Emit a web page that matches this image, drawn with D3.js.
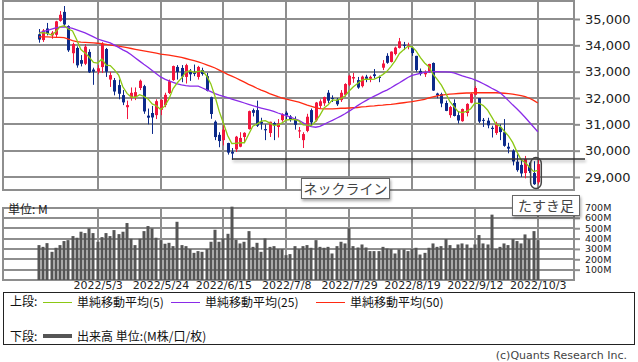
<!DOCTYPE html>
<html>
<head>
<meta charset="utf-8">
<script src="https://cdn.jsdelivr.net/npm/d3@7"></script>
<style>
body { margin: 0; background: #fff; }
</style>
</head>
<body>
<script>
'use strict';

// trading days (2022)
var dates = ['4/12','4/13','4/14','4/18','4/19','4/20','4/21','4/22','4/25','4/26','4/27','4/28','4/29',
  '5/2','5/3','5/4','5/5','5/6','5/9','5/10','5/11','5/12','5/13','5/16','5/17','5/18','5/19','5/20','5/23','5/24','5/25','5/26','5/27','5/31',
  '6/1','6/2','6/3','6/6','6/7','6/8','6/9','6/10','6/13','6/14','6/15','6/16','6/17','6/21','6/22','6/23','6/24','6/27','6/28','6/29','6/30',
  '7/1','7/5','7/6','7/7','7/8','7/11','7/12','7/13','7/14','7/15','7/18','7/19','7/20','7/21','7/22','7/25','7/26','7/27','7/28','7/29',
  '8/1','8/2','8/3','8/4','8/5','8/8','8/9','8/10','8/11','8/12','8/15','8/16','8/17','8/18','8/19','8/22','8/23','8/24','8/25','8/26','8/29','8/30','8/31',
  '9/1','9/2','9/6','9/7','9/8','9/9','9/12','9/13','9/14','9/15','9/16','9/19','9/20','9/21','9/22','9/23','9/26','9/27','9/28','9/29','9/30',
  '10/3'];

var open = [34420,34200,34640,34380,34400,34930,35270,34730,33700,33900,33440,33300,33750,33080,33000,33175,33860,32700,32680,32490,
  32110,31650,32000,32040,32380,32450,31330,31430,31350,31550,31730,32190,32680,33180,33140,32800,33030,32980,32800,33060,
  32830,32030,31100,30600,30400,30290,29960,30050,30150,30520,30820,31540,31540,31100,30820,30670,31050,30900,31160,31440,
  31300,31180,30730,30400,30750,31540,31150,31700,31800,32200,32000,31940,31920,32120,32500,32740,32680,32450,32810,32730,
  32900,32800,33150,33600,33370,33670,33900,34020,33950,33900,33600,33030,32900,32990,33330,32170,32150,31810,31350,31810,
  31350,31120,31430,31820,32120,32000,31170,31140,30870,30670,30900,30700,30150,30000,29580,29460,29150,29420,29150,28800];
var high = [34620,34620,34850,34540,34930,35300,35492,34760,34100,33960,33630,34050,33850,33150,33250,34120,33900,32990,32760,32700,
  32300,31900,32400,32400,32700,32500,31600,31700,31950,31950,32200,32700,33230,33250,33250,33300,33100,33270,33220,33150,
  32950,32050,31150,30700,31000,30300,30100,30560,30700,30700,31520,31600,31900,31250,31000,31100,31100,31200,31420,31500,
  31350,31300,30900,30700,31400,31600,31850,31950,32050,32300,32100,32000,32300,32560,32880,32950,32800,32850,32880,32850,
  33100,32850,33440,33700,33770,33950,34280,34130,34100,33950,33600,33120,33050,33300,33350,32200,32200,31900,31700,31950,
  31500,31600,31800,32200,32450,32000,31240,31250,30950,31100,31000,31200,30300,30050,29860,29670,29800,29550,29600,29650];
var low = [34100,34130,34380,34250,34300,34900,34700,33750,33320,33150,33200,33250,32950,32500,32900,32950,32800,32420,32100,31950,
  31730,31200,31900,31920,32300,31400,31000,30635,31200,31350,31650,32150,32650,32700,32600,32550,32650,32830,32700,32850,
  32250,31210,30400,30130,30200,29850,29653,29950,30130,30300,30800,31300,30900,30800,30400,30520,30400,30500,31100,31200,
  31100,30800,30480,30100,30700,30950,31100,31600,31700,31800,31850,31700,31850,32050,32450,32580,32350,32400,32600,32600,
  32750,32600,33060,33300,33350,33620,33880,33820,33850,33600,33000,32850,32800,32950,32270,31990,31650,31500,31250,31300,
  31030,31100,31300,31800,32100,31050,30900,30850,30500,30600,30400,30150,29900,29440,29200,29000,28950,29150,28700,28720];
var close = [34220,34565,34451,34480,34911,35161,34793,33811,34049,33240,33302,33950,32977,33000,33129,34061,32998,32870,32246,32161,
  31834,31730,32197,32223,32655,31490,31253,31262,31880,31929,32120,32637,33213,32990,32813,33248,32900,32916,33180,32911,
  32273,31393,30517,30365,30800,29927,29889,30530,30483,30677,31501,31438,30947,31029,30775,31097,30968,31038,31385,31338,
  31174,30981,30773,30630,31288,31073,31827,31875,32037,31899,31990,31762,32198,32530,32845,32798,32396,32812,32727,32803,
  32833,32774,33310,33337,33761,33912,34152,33980,33999,33707,33064,32910,32969,33292,32283,32099,31791,31510,31656,31318,
  31145,31581,31775,32152,32381,31105,31135,30962,30822,31020,30706,30184,30077,29590,29261,29135,29684,29226,28726,29491];

// volume, millions of shares
var volume = [337,320,356,272,311,337,376,385,424,408,466,453,498,453,369,414,453,424,482,443,
  466,550,398,337,398,472,521,498,408,385,350,359,327,562,337,327,298,262,279,272,
  298,369,485,369,401,446,708,388,353,369,472,320,359,272,401,320,327,298,298,240,
  250,327,298,327,337,311,385,320,311,320,256,327,369,353,498,327,314,343,314,279,
  279,279,320,304,298,256,295,295,279,298,311,246,262,311,353,320,327,395,337,304,
  343,353,343,311,343,434,353,343,631,298,320,353,337,395,376,353,440,395,472,385];

// moving averages
var ma5 = [34466,34479,34453,34391,34512,34700,34746,34618,34545,34211,33839,33713,33546,33348,33326,33478,33245,33230,33067,32873,
  32428,32174,32034,32029,32128,32059,31964,31777,31708,31563,31689,31966,32356,32578,32755,32980,33033,32973,33011,33031,
  32836,32535,32055,31492,31043,30574,30273,30276,30300,30301,30616,30926,31009,31118,31138,31057,30963,30981,31053,31165,
  31181,31183,31130,30979,30969,30949,31118,31339,31620,31742,31926,31913,31977,32076,32265,32427,32553,32676,32716,32707,
  32714,32790,32889,33011,33203,33419,33694,33828,33961,33950,33780,33532,33330,33188,32904,32711,32487,32195,31868,31675,
  31484,31442,31495,31594,31807,31799,31710,31547,31281,31009,30929,30739,30562,30315,29964,29649,29549,29379,29206,29252];
var ma25 = [34470,34520,34570,34620,34660,34690,34700,34680,34640,34590,34530,34470,34400,34320,34240,34190,34140,34090,34010,33920,
  33830,33750,33640,33520,33400,33280,33170,33040,32920,32800,32720,32650,32590,32540,32500,32470,32450,32450,32450,32380,
  32310,32240,32170,32110,32060,32010,31960,31910,31860,31810,31760,31710,31660,31620,31580,31540,31490,31430,31380,31330,
  31270,31210,31150,31060,30960,30910,30890,30920,31000,31080,31150,31230,31310,31400,31500,31600,31710,31810,31900,31990,
  32070,32150,32230,32300,32390,32490,32580,32680,32780,32860,32900,32940,32970,32990,33000,33000,32990,32990,32980,32950,
  32900,32840,32790,32750,32690,32620,32540,32460,32370,32290,32200,32060,31900,31740,31590,31430,31260,31080,30900,30720];
var ma50 = [34320,34320,34320,34310,34300,34300,34290,34240,34180,34140,34120,34110,34100,34090,34080,34060,34040,34010,33990,33970,
  33940,33910,33880,33850,33820,33790,33760,33730,33700,33670,33650,33630,33600,33570,33540,33500,33460,33420,33370,33320,
  33260,33200,33140,33060,32980,32900,32830,32760,32680,32600,32520,32450,32370,32300,32240,32170,32110,32050,32000,31960,
  31920,31880,31840,31790,31730,31680,31630,31600,31590,31590,31590,31600,31610,31610,31620,31630,31640,31660,31670,31690,
  31700,31720,31730,31750,31760,31780,31800,31820,31840,31860,31890,31920,31950,32000,32040,32080,32110,32130,32150,32160,
  32170,32180,32190,32190,32200,32200,32200,32200,32200,32200,32190,32180,32170,32150,32120,32090,32050,31990,31910,31810];

var priceTicks = [29000, 30000, 31000, 32000, 33000, 34000, 35000];
var volTicks = [100, 200, 300, 400, 500, 600, 700];
var tickDates = ['5/3', '5/24', '6/15', '7/8', '7/29', '8/19', '9/12', '10/3'];
var neckline = 29680;

var gridColor = '#8e8e8e', upColor = '#f2163e', downColor = '#0c2a8a';

var svg = d3.select('body').append('svg')
  .attr('width', 638).attr('height', 362)
  .style('font-family', 'DejaVu Sans, sans-serif');

var defs = svg.append('defs');
var shadow = defs.append('filter').attr('id', 'shadow').attr('filterUnits', 'userSpaceOnUse')
  .attr('x', 0).attr('y', 0).attr('width', 638).attr('height', 362);
shadow.append('feDropShadow').attr('dx', 1).attr('dy', 2).attr('stdDeviation', 1.5).attr('flood-color', '#000').attr('flood-opacity', 0.35);

var left = 3, right = 574;
var pTop = 1, pBottom = 190, vTop = 207, vBottom = 280;

var x = d3.scaleBand().domain(d3.range(dates.length)).range([36.9, 539.9]);
function cx(i) { return x(i) + x.bandwidth() / 2; }
var yP = d3.scaleLinear().domain([29000, 35000]).range([177, 19]);
var yV = d3.scaleLinear().domain([0, 700]).range([vBottom, 207.5]);

var tickIdx = tickDates.map(function(d) { return dates.indexOf(d); });

// grid
var grid = svg.append('g').attr('stroke', gridColor).attr('stroke-width', 2);
grid.selectAll('line.vp').data(tickIdx).enter().append('line')
  .attr('x1', function(d) { return Math.round(cx(d)); }).attr('x2', function(d) { return Math.round(cx(d)); })
  .attr('y1', pTop).attr('y2', pBottom);
grid.selectAll('line.vv').data(tickIdx).enter().append('line')
  .attr('x1', function(d) { return Math.round(cx(d)); }).attr('x2', function(d) { return Math.round(cx(d)); })
  .attr('y1', vTop).attr('y2', vBottom);
grid.selectAll('line.hp').data(priceTicks).enter().append('line')
  .attr('x1', left).attr('x2', right).attr('y1', function(d) { return Math.round(yP(d)); }).attr('y2', function(d) { return Math.round(yP(d)); });
grid.selectAll('line.hv').data(volTicks).enter().append('line')
  .attr('x1', left).attr('x2', right).attr('y1', function(d) { return Math.round(yV(d)); }).attr('y2', function(d) { return Math.round(yV(d)); });
grid.append('rect').attr('x', left).attr('y', pTop).attr('width', right - left).attr('height', pBottom - pTop).attr('fill', 'none');
grid.append('polyline').attr('points', [[left, vTop], [left, vBottom], [right, vBottom], [right, vTop]].join(' ')).attr('fill', 'none');

// price axis on the right
var pAxis = svg.append('g').attr('transform', 'translate(' + right + ',0)')
  .call(d3.axisRight(yP).tickValues(priceTicks).tickSize(6).tickPadding(5).tickFormat(d3.format(',')));
pAxis.select('.domain').remove();
pAxis.selectAll('.tick line').attr('stroke', gridColor).attr('stroke-width', 2);
pAxis.selectAll('.tick text').attr('font-size', 13).attr('fill', '#222').attr('font-family', 'DejaVu Sans');

var vAxis = svg.append('g').attr('transform', 'translate(' + right + ',0)')
  .call(d3.axisRight(yV).tickValues(volTicks).tickSize(6).tickPadding(5).tickFormat(function(d) { return d + 'M'; }));
vAxis.select('.domain').remove();
vAxis.selectAll('.tick line').attr('stroke', gridColor).attr('stroke-width', 2);
vAxis.selectAll('.tick text').attr('font-size', 9.5).attr('fill', '#222').attr('font-family', 'DejaVu Sans');

// date labels
svg.append('g').selectAll('text').data(tickIdx).enter().append('text')
  .attr('x', function(d) { return cx(d) + 0.5; }).attr('y', 289)
  .attr('text-anchor', 'middle').attr('font-size', 11).attr('fill', '#222')
  .text(function(d) { return '2022/' + dates[d]; });

// volume bars
svg.append('g').selectAll('rect').data(volume).enter().append('rect')
  .attr('x', function(d, i) { return Math.round(cx(i)) - 1.5; })
  .attr('width', 3)
  .attr('y', function(d) { return yV(d); })
  .attr('height', function(d) { return vBottom - yV(d); })
  .attr('fill', '#555');

svg.append('text').attr('x', 8).attr('y', 214).attr('font-size', 12).attr('fill', '#222')
  .attr('font-family', 'Noto Sans CJK JP').text('単位: M');

// candles
var candles = svg.append('g').selectAll('g').data(dates).enter().append('g')
  .attr('fill', function(d, i) { return close[i] >= open[i] ? upColor : downColor; })
  .attr('stroke', function(d, i) { return close[i] >= open[i] ? upColor : downColor; });
candles.append('line')
  .attr('x1', function(d, i) { return Math.round(cx(i)) + 0.5; })
  .attr('x2', function(d, i) { return Math.round(cx(i)) + 0.5; })
  .attr('y1', function(d, i) { return yP(high[i]); })
  .attr('y2', function(d, i) { return yP(low[i]); })
  .attr('stroke-width', 1);
candles.append('rect')
  .attr('x', function(d, i) { return Math.round(cx(i)) - 1; })
  .attr('width', 3)
  .attr('y', function(d, i) { return yP(Math.max(open[i], close[i])); })
  .attr('height', function(d, i) { return Math.max(1, Math.abs(yP(open[i]) - yP(close[i]))); })
  .attr('stroke', 'none');

// moving averages
var line = d3.line().x(function(d, i) { return cx(i); }).y(function(d) { return yP(d); });
svg.append('path').datum(ma50).attr('d', line).attr('fill', 'none').attr('stroke', '#ff2a12').attr('stroke-width', 1.3);
svg.append('path').datum(ma25).attr('d', line).attr('fill', 'none').attr('stroke', '#8a2be8').attr('stroke-width', 1.3);
svg.append('path').datum(ma5).attr('d', line).attr('fill', 'none').attr('stroke', '#8cc814').attr('stroke-width', 1.3);

// neckline annotation
var firstLowIdx = dates.indexOf('6/17');
svg.append('line')
  .attr('x1', cx(firstLowIdx)).attr('x2', 585)
  .attr('y1', yP(neckline)).attr('y2', yP(neckline))
  .attr('stroke', '#333').attr('stroke-width', 1.5).attr('filter', 'url(#shadow)');

function labelBox(x0, y0, w, h, txt) {
  var g = svg.append('g');
  g.append('rect').attr('x', x0 + 0.5).attr('y', y0 + 0.5).attr('width', w).attr('height', h)
    .attr('fill', '#fff').attr('stroke', '#666').attr('stroke-width', 1).attr('filter', 'url(#shadow)');
  g.append('text').attr('x', x0 + w / 2 + 0.5).attr('y', y0 + h / 2 + 5.5)
    .attr('text-anchor', 'middle').attr('font-size', 14).attr('fill', '#444')
    .attr('font-family', 'Noto Sans CJK JP').text(txt);
}
labelBox(301, 178, 88, 20, 'ネックライン');
labelBox(512, 195, 67, 20, 'たすき足');

// highlight of the last two candles
var last = dates.length - 1;
svg.append('rect')
  .attr('x', cx(last - 1) - 3).attr('y', yP(29740))
  .attr('width', cx(last) - cx(last - 1) + 6.5).attr('height', yP(28560) - yP(29740))
  .attr('rx', 6).attr('fill', 'none').attr('stroke', '#444').attr('stroke-width', 1.5);

// legend
var lg = svg.append('g').attr('font-family', 'Noto Sans CJK JP').attr('font-size', 12).attr('fill', '#111');
lg.append('rect').attr('x', 3.5).attr('y', 292.5).attr('width', 631).attr('height', 52)
  .attr('fill', 'none').attr('stroke', '#222').attr('stroke-width', 1);
lg.append('text').attr('x', 10).attr('y', 306).text('上段:');
var items = [
  { x: 43, color: '#8cc814', label: '単純移動平均(5)' },
  { x: 171, color: '#8a2be8', label: '単純移動平均(25)' },
  { x: 316, color: '#ff2a12', label: '単純移動平均(50)' }
];
items.forEach(function(it) {
  lg.append('line').attr('x1', it.x).attr('x2', it.x + 29).attr('y1', 302.5).attr('y2', 302.5)
    .attr('stroke', it.color).attr('stroke-width', 1);
  lg.append('text').attr('x', it.x + 34).attr('y', 306.5).text(it.label);
});
lg.append('text').attr('x', 10).attr('y', 340.5).text('下段:');
lg.append('line').attr('x1', 43).attr('x2', 72).attr('y1', 336).attr('y2', 336).attr('stroke', '#555').attr('stroke-width', 4);
lg.append('text').attr('x', 77).attr('y', 340.5).text('出来高 単位:(M株/口/枚)');

svg.append('text').attr('x', 627).attr('y', 359).attr('text-anchor', 'end')
  .attr('font-size', 11).attr('fill', '#444').attr('font-family', 'DejaVu Sans')
  .text('(c)Quants Research Inc.');
</script>
</body>
</html>
